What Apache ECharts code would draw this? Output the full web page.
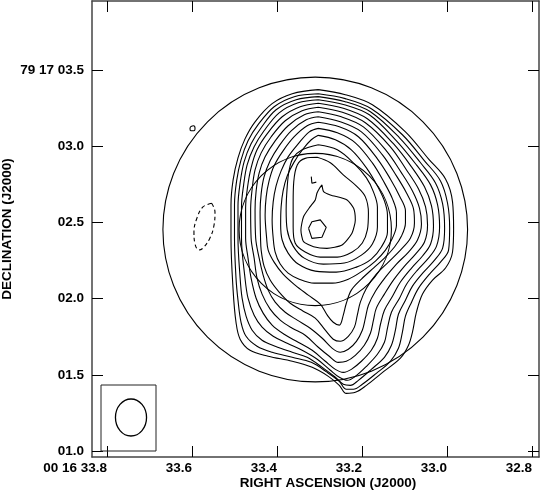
<!DOCTYPE html>
<html>
<head>
<meta charset="utf-8">
<script src="https://cdn.jsdelivr.net/npm/echarts@6/dist/echarts.min.js"></script>
<style>
  html, body { margin: 0; padding: 0; background: #fff; }
  #chart { width: 541px; height: 490px; }
</style>
</head>
<body>
<div id="chart"></div>
<script>
// map centre: RA seconds after 00h16m, Dec arcsec after +79d17m
var ra0 = 33.310, dec0 = 2.454;
var raMin = 32.7835, raMax = 33.8353;
var decMin = 0.9606, decMax = 3.954;
var raTicks = [33.8, 33.6, 33.4, 33.2, 33.0, 32.8];
var decTicks = [3.5, 3.0, 2.5, 2.0, 1.5, 1.0];
var circleRadii = [1.0, 0.5];          // arcsec
var beam = [0.243, 0.204, 0];          // major, minor (arcsec), pa (deg)

// contours, [east, north] offsets in arcsec from the map centre
var lev01 = [[-0.020,0.918],[-0.197,0.885],[-0.375,0.819],[-0.592,0.641],[-0.743,0.464],[-0.855,0.332],[-0.901,0.181],[-0.908,0.003],[-0.901,-0.148],[-0.855,-0.253],[-0.770,-0.332],[-0.704,-0.424],[-0.664,-0.543],[-0.638,-0.674],[-0.612,-0.760],[-0.559,-0.845],[-0.434,-0.944],[-0.336,-1.023],[-0.263,-1.069],[-0.204,-1.076],[-0.158,-1.023],[-0.086,-0.964],[0.020,-0.905],[0.151,-0.865],[0.309,-0.832],[0.428,-0.793],[0.493,-0.720],[0.520,-0.609],[0.539,-0.398],[0.553,-0.056],[0.553,0.161],[0.539,0.326],[0.507,0.470],[0.461,0.595],[0.395,0.707],[0.283,0.826],[0.151,0.891]];
var lev02 = [[-0.020,0.891],[-0.197,0.859],[-0.368,0.793],[-0.572,0.622],[-0.717,0.451],[-0.822,0.319],[-0.868,0.174],[-0.882,0.010],[-0.875,-0.135],[-0.822,-0.214],[-0.750,-0.293],[-0.678,-0.385],[-0.632,-0.477],[-0.592,-0.569],[-0.572,-0.674],[-0.546,-0.780],[-0.493,-0.865],[-0.401,-0.944],[-0.309,-1.016],[-0.250,-1.049],[-0.204,-1.049],[-0.158,-0.997],[-0.079,-0.938],[0.026,-0.872],[0.151,-0.839],[0.283,-0.806],[0.382,-0.766],[0.454,-0.701],[0.487,-0.609],[0.507,-0.464],[0.520,-0.319],[0.530,-0.056],[0.530,0.161],[0.516,0.319],[0.487,0.457],[0.441,0.582],[0.375,0.688],[0.270,0.806],[0.138,0.872]];
var lev03 = [[-0.020,0.872],[-0.197,0.839],[-0.362,0.773],[-0.553,0.602],[-0.691,0.438],[-0.789,0.306],[-0.836,0.168],[-0.849,0.010],[-0.836,-0.122],[-0.783,-0.201],[-0.711,-0.280],[-0.638,-0.372],[-0.592,-0.464],[-0.546,-0.556],[-0.526,-0.661],[-0.500,-0.760],[-0.454,-0.839],[-0.368,-0.918],[-0.283,-0.990],[-0.230,-1.023],[-0.184,-1.016],[-0.132,-0.970],[-0.046,-0.905],[0.053,-0.839],[0.151,-0.806],[0.263,-0.766],[0.349,-0.727],[0.414,-0.661],[0.454,-0.569],[0.480,-0.451],[0.493,-0.319],[0.507,-0.056],[0.507,0.155],[0.493,0.306],[0.467,0.444],[0.421,0.563],[0.355,0.668],[0.257,0.786],[0.125,0.852]];
var lev04 = [[-0.020,0.852],[-0.191,0.819],[-0.355,0.753],[-0.533,0.582],[-0.664,0.424],[-0.757,0.293],[-0.803,0.161],[-0.816,0.016],[-0.796,-0.109],[-0.743,-0.188],[-0.671,-0.266],[-0.599,-0.359],[-0.553,-0.451],[-0.500,-0.543],[-0.474,-0.648],[-0.454,-0.740],[-0.408,-0.819],[-0.336,-0.898],[-0.263,-0.964],[-0.211,-0.990],[-0.158,-0.970],[-0.099,-0.924],[-0.013,-0.852],[0.086,-0.793],[0.184,-0.747],[0.276,-0.701],[0.349,-0.641],[0.401,-0.563],[0.441,-0.451],[0.461,-0.319],[0.484,-0.056],[0.484,0.148],[0.470,0.293],[0.447,0.424],[0.401,0.543],[0.336,0.648],[0.237,0.766],[0.112,0.832]];
var lev05 = [[-0.020,0.829],[-0.184,0.796],[-0.342,0.727],[-0.513,0.563],[-0.632,0.411],[-0.717,0.280],[-0.763,0.155],[-0.776,0.023],[-0.757,-0.095],[-0.704,-0.174],[-0.632,-0.253],[-0.559,-0.345],[-0.507,-0.438],[-0.454,-0.530],[-0.428,-0.622],[-0.408,-0.714],[-0.368,-0.793],[-0.303,-0.865],[-0.237,-0.918],[-0.184,-0.938],[-0.132,-0.918],[-0.066,-0.865],[0.020,-0.793],[0.112,-0.740],[0.204,-0.688],[0.283,-0.628],[0.342,-0.549],[0.388,-0.451],[0.421,-0.319],[0.441,-0.188],[0.457,-0.056],[0.457,0.141],[0.444,0.280],[0.421,0.405],[0.382,0.523],[0.316,0.628],[0.217,0.740],[0.099,0.806]];
var lev06 = [[-0.020,0.803],[-0.178,0.770],[-0.329,0.701],[-0.493,0.543],[-0.599,0.391],[-0.678,0.266],[-0.724,0.148],[-0.737,0.030],[-0.717,-0.082],[-0.658,-0.161],[-0.586,-0.240],[-0.513,-0.332],[-0.454,-0.424],[-0.401,-0.516],[-0.382,-0.595],[-0.362,-0.681],[-0.322,-0.760],[-0.263,-0.826],[-0.204,-0.865],[-0.151,-0.872],[-0.092,-0.832],[-0.020,-0.773],[0.066,-0.694],[0.151,-0.648],[0.230,-0.595],[0.296,-0.523],[0.349,-0.424],[0.382,-0.319],[0.401,-0.188],[0.421,-0.056],[0.424,0.135],[0.414,0.266],[0.395,0.391],[0.355,0.503],[0.289,0.609],[0.197,0.714],[0.086,0.780]];
var lev07 = [[-0.020,0.773],[-0.171,0.740],[-0.316,0.674],[-0.467,0.516],[-0.566,0.372],[-0.638,0.253],[-0.684,0.141],[-0.697,0.036],[-0.671,-0.069],[-0.612,-0.148],[-0.533,-0.227],[-0.461,-0.313],[-0.395,-0.405],[-0.349,-0.497],[-0.329,-0.582],[-0.309,-0.661],[-0.270,-0.734],[-0.217,-0.786],[-0.164,-0.806],[-0.112,-0.780],[-0.046,-0.714],[0.033,-0.648],[0.118,-0.595],[0.197,-0.543],[0.263,-0.477],[0.309,-0.398],[0.342,-0.299],[0.368,-0.188],[0.391,-0.056],[0.395,0.128],[0.388,0.253],[0.368,0.372],[0.329,0.477],[0.263,0.582],[0.178,0.681],[0.072,0.753]];
var lev08 = [[-0.020,0.740],[-0.164,0.707],[-0.303,0.641],[-0.441,0.490],[-0.533,0.352],[-0.599,0.240],[-0.645,0.135],[-0.651,0.043],[-0.625,-0.056],[-0.559,-0.135],[-0.480,-0.214],[-0.401,-0.293],[-0.336,-0.385],[-0.296,-0.477],[-0.276,-0.562],[-0.257,-0.641],[-0.217,-0.701],[-0.164,-0.734],[-0.118,-0.720],[-0.066,-0.661],[0.000,-0.582],[0.079,-0.536],[0.164,-0.484],[0.237,-0.411],[0.296,-0.332],[0.336,-0.240],[0.355,-0.135],[0.359,-0.056],[0.362,0.115],[0.355,0.234],[0.336,0.345],[0.296,0.451],[0.237,0.549],[0.158,0.648],[0.059,0.720]];
var lev09 = [[-0.020,0.704],[-0.158,0.674],[-0.283,0.609],[-0.408,0.464],[-0.493,0.332],[-0.553,0.220],[-0.592,0.122],[-0.592,0.043],[-0.566,-0.043],[-0.520,-0.115],[-0.454,-0.188],[-0.382,-0.253],[-0.303,-0.326],[-0.237,-0.398],[-0.204,-0.484],[-0.184,-0.562],[-0.158,-0.628],[-0.118,-0.609],[-0.079,-0.562],[-0.033,-0.490],[0.046,-0.431],[0.132,-0.365],[0.211,-0.293],[0.270,-0.214],[0.309,-0.135],[0.319,-0.056],[0.329,0.095],[0.322,0.214],[0.303,0.319],[0.270,0.418],[0.211,0.516],[0.138,0.609],[0.053,0.681]];
var lev10 = [[-0.020,0.664],[-0.145,0.635],[-0.263,0.569],[-0.375,0.437],[-0.454,0.306],[-0.507,0.201],[-0.533,0.109],[-0.533,0.030],[-0.507,-0.056],[-0.461,-0.135],[-0.395,-0.207],[-0.309,-0.273],[-0.217,-0.326],[-0.112,-0.352],[0.007,-0.352],[0.105,-0.326],[0.178,-0.286],[0.230,-0.227],[0.263,-0.148],[0.276,-0.056],[0.283,0.063],[0.276,0.181],[0.257,0.286],[0.224,0.385],[0.178,0.477],[0.112,0.562],[0.039,0.641]];
var lev11 = [[-0.020,0.618],[-0.132,0.589],[-0.237,0.523],[-0.336,0.405],[-0.408,0.286],[-0.454,0.188],[-0.474,0.095],[-0.474,-0.016],[-0.434,-0.115],[-0.368,-0.194],[-0.270,-0.247],[-0.138,-0.280],[0.000,-0.273],[0.112,-0.227],[0.178,-0.155],[0.217,-0.069],[0.227,0.030],[0.224,0.148],[0.211,0.253],[0.184,0.352],[0.138,0.444],[0.079,0.530],[0.026,0.589]];
var lev12 = [[-0.020,0.556],[-0.145,0.523],[-0.257,0.431],[-0.336,0.339],[-0.382,0.247],[-0.408,0.148],[-0.408,0.016],[-0.375,-0.095],[-0.303,-0.168],[-0.191,-0.220],[-0.053,-0.227],[0.072,-0.188],[0.145,-0.109],[0.184,-0.003],[0.191,0.128],[0.184,0.280],[0.171,0.391],[0.145,0.470],[0.086,0.523]];
var lev13 = [[-0.013,0.474],[-0.099,0.438],[-0.184,0.359],[-0.276,0.280],[-0.329,0.214],[-0.349,0.109],[-0.342,-0.003],[-0.309,-0.089],[-0.243,-0.148],[-0.145,-0.181],[-0.033,-0.181],[0.066,-0.148],[0.132,-0.089],[0.145,0.016],[0.145,0.174],[0.141,0.313],[0.118,0.424],[0.066,0.467]];
var lev14 = [[-0.044,0.293],[-0.055,0.249],[-0.099,0.227],[-0.209,0.194],[-0.252,0.139],[-0.263,0.063],[-0.241,-0.025],[-0.176,-0.102],[-0.077,-0.124],[0.011,-0.113],[0.077,-0.080],[0.094,-0.003],[0.077,0.084],[0.033,0.150],[0.000,0.194],[-0.011,0.238],[-0.028,0.271]];
var lev15 = [[0.044,0.008],[0.022,0.051],[-0.033,0.063],[-0.072,0.014],[-0.044,-0.051],[0.022,-0.058]];
var peakMark = [[0.026,0.347],[0.022,0.304],[-0.007,0.311]];
var negLev = [[0.680,0.172],[0.658,0.115],[0.664,0.030],[0.691,-0.056],[0.737,-0.122],[0.763,-0.135],[0.789,-0.095],[0.796,-0.016],[0.776,0.076],[0.737,0.148]];
var blob = [[0.819,0.674],[0.799,0.681],[0.789,0.664],[0.796,0.648],[0.816,0.648],[0.822,0.661]];

var contours = [lev01, lev02, lev03, lev04, lev05, lev06, lev07, lev08,
                lev09, lev10, lev11, lev12, lev13];

var FONT = '"Liberation Sans", Arial, Helvetica, sans-serif';
var secPerArcsec = 1 / (15 * Math.cos((79 + 17 / 60 + dec0 / 3600) * Math.PI / 180));

function toSky(p) {
  return [ra0 + p[0] * secPerArcsec, dec0 + p[1]];
}
function closed(pts) {
  return pts.concat([pts[0]]).map(toSky);
}
function contourSeries(pts, smooth, dashed, isOpen) {
  return {
    type: 'line',
    data: isOpen ? pts.map(toSky) : closed(pts),
    showSymbol: false,
    symbol: 'none',
    smooth: smooth,
    silent: true,
    lineStyle: { color: '#000', width: 1.1, type: dashed ? [4, 3] : 'solid' },
    z: 3
  };
}

var series = [];
contours.forEach(function (c) { series.push(contourSeries(c, 0.35, false, false)); });
series.push(contourSeries(lev14, 0.2, false, false));
series.push(contourSeries(lev15, 0, false, false));
series.push(contourSeries(peakMark, 0, false, true));
series.push(contourSeries(negLev, 0.4, true, false));
series.push(contourSeries(blob, 0.4, false, false));

// primary beam circles
series.push({
  type: 'custom',
  silent: true,
  data: circleRadii.map(function (r) { return [ra0, dec0, r]; }),
  renderItem: function (params, api) {
    var c = api.coord([api.value(0), api.value(1)]);
    var r = api.size([0, api.value(2)])[1];
    return {
      type: 'circle',
      shape: { cx: c[0], cy: c[1], r: r },
      style: { fill: 'none', stroke: '#000', lineWidth: 1.1 }
    };
  },
  z: 2
});

// restoring beam in its box, bottom-left corner
series.push({
  type: 'custom',
  silent: true,
  data: [[ra0, dec0]],
  renderItem: function (params, api) {
    var corner = api.coord([raMax, decMin]);
    var bx = corner[0] + 9, by = corner[1] - 72, bw = 55, bh = 66;
    var rx = api.size([beam[1] / 2 * secPerArcsec, 0])[0];
    var ry = api.size([0, beam[0] / 2])[1];
    return {
      type: 'group',
      children: [
        { type: 'rect', shape: { x: bx, y: by, width: bw, height: bh },
          style: { fill: 'none', stroke: '#222', lineWidth: 1 } },
        { type: 'ellipse', shape: { cx: bx + 30, cy: by + 32.5, rx: rx, ry: ry },
          rotation: beam[2] * Math.PI / 180, originX: bx + 30, originY: by + 32.5,
          style: { fill: 'none', stroke: '#000', lineWidth: 1.3 } }
      ]
    };
  },
  z: 4
});

var labelStyle = { color: '#000', fontFamily: FONT, fontWeight: 'bold', fontSize: 13.5 };
var frameLine = { show: true, onZero: false, lineStyle: { color: '#444', width: 1.5 } };
var tickStyle = { lineStyle: { color: '#000', width: 1 } };

function raAxis(pos, labelled) {
  return {
    type: 'value', position: pos, min: raMin, max: raMax, inverse: true,
    axisLine: frameLine,
    axisTick: Object.assign({ inside: true, length: 11, customValues: raTicks }, tickStyle),
    axisLabel: labelled ? Object.assign({
      customValues: raTicks, align: 'right', margin: 4,
      formatter: function (v) {
        return Math.abs(v - 33.8) < 1e-6 ? '00 16 33.8' : v.toFixed(1);
      }
    }, labelStyle) : { show: false },
    splitLine: { show: false },
    name: labelled ? 'RIGHT ASCENSION (J2000)' : '',
    nameLocation: 'middle', nameGap: 19, nameMoveOverlap: false,
    nameTextStyle: Object.assign({ padding: [0, 0, 0, 25] }, labelStyle)
  };
}
function decAxis(pos, labelled) {
  return {
    type: 'value', position: pos, min: decMin, max: decMax,
    axisLine: frameLine,
    axisTick: Object.assign({ inside: true, length: 11, customValues: decTicks }, tickStyle),
    axisLabel: labelled ? Object.assign({
      customValues: decTicks, margin: 8,
      formatter: function (v) {
        return Math.abs(v - 3.5) < 1e-6 ? '79 17 03.5' : '0' + v.toFixed(1);
      }
    }, labelStyle) : { show: false },
    splitLine: { show: false },
    name: labelled ? 'DECLINATION (J2000)' : '',
    nameLocation: 'middle', nameGap: 78, nameMoveOverlap: false,
    nameTextStyle: labelStyle
  };
}

var chart = echarts.init(document.getElementById('chart'), null, { renderer: 'canvas' });
chart.setOption({
  animation: false,
  backgroundColor: '#fff',
  grid: { left: 92, right: 2, top: 1, bottom: 33, outerBoundsMode: 'none', containLabel: false },
  xAxis: [raAxis('bottom', true), raAxis('top', false)],
  yAxis: [decAxis('left', true), decAxis('right', false)],
  series: series
});
</script>
</body>
</html>
